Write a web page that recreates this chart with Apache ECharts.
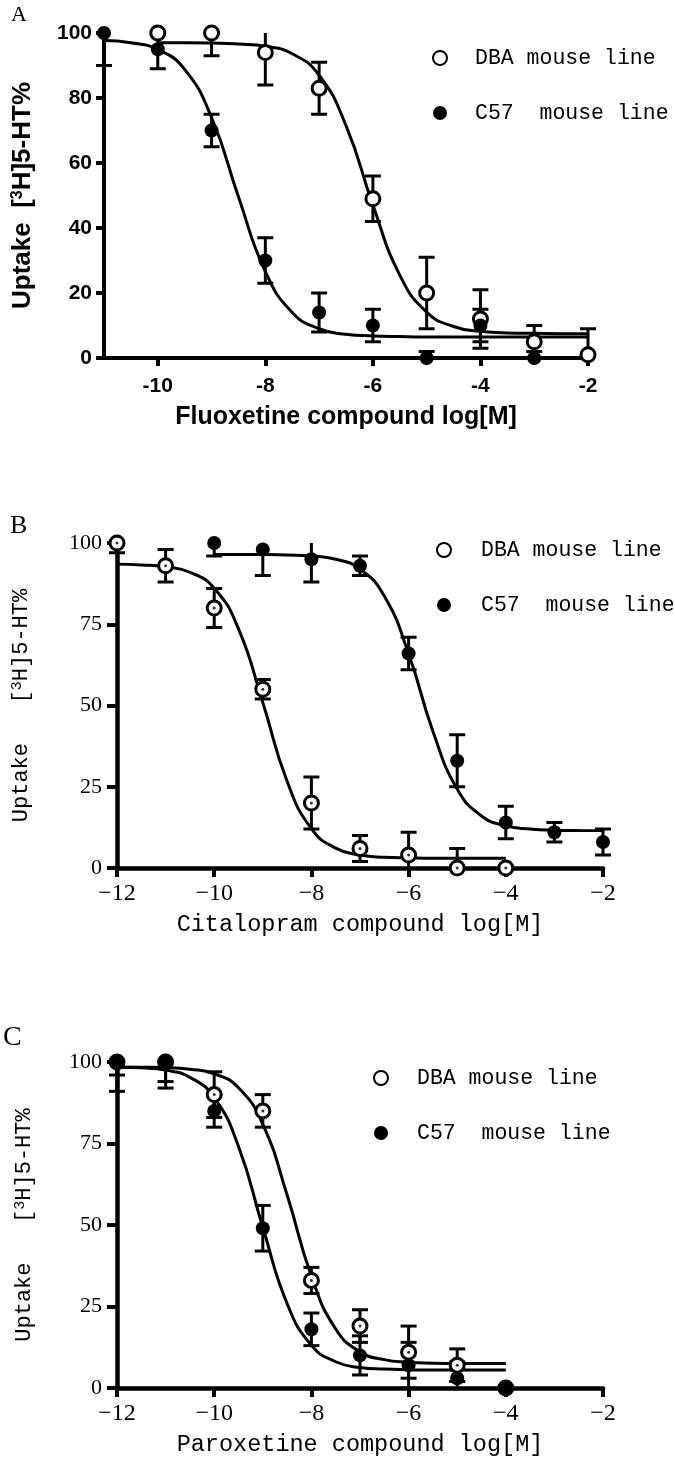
<!DOCTYPE html>
<html><head><meta charset="utf-8">
<script src="https://cdn.jsdelivr.net/npm/echarts@6/dist/echarts.min.js"></script>
<style>html,body{margin:0;padding:0;background:#fff}#c{width:675px;height:1460px}</style>
</head><body><div id="c"></div>
<script>
// ---------- Panel A : Fluoxetine ----------
const A_x_DBA   = [-10, -9, -8, -7, -6, -5, -4, -3, -2];
const A_DBA     = [100, 100, 94, 83, 49, 20, 12, 5, 1];
const A_DBA_err = [0, 7, 10, 8, 7, 11, 9, 5, 8];
const A_x_C57   = [-11, -10, -9, -8, -7, -6, -5, -4, -3];
const A_C57     = [100, 95, 70, 30, 14, 10, 0, 10, 0];
const A_C57_err = [10, 6, 5, 7, 6, 5, 2, 5, 2];
const A_fitX_DBA = [-10,-9.5,-9,-8.5,-8,-7.5,-7,-6.5,-6,-5.5,-5,-4.5,-4,-3.5,-3,-2.5,-2];
const A_fit_DBA  = [97.0,97.0,96.9,96.6,95.9,93.6,87.0,71.5,47.1,25.5,14.1,9.7,8.2,7.7,7.6,7.5,7.5];
const A_fitX_C57 = [-11,-10.5,-10,-9.5,-9,-8.5,-8,-7.5,-7,-6.5,-6,-5.5,-5,-4.5,-4,-3.5,-3,-2.5,-2];
const A_fit_C57  = [97.7,97.0,94.9,88.8,74.0,49.6,26.6,14.0,9.0,7.3,6.8,6.6,6.5,6.5,6.5,6.5,6.5,6.5,6.5];
const A_xTicks   = [-10, -8, -6, -4, -2];

// ---------- Panel B : Citalopram ----------
const B_x_DBA   = [-12, -11, -10, -9, -8, -7, -6, -5, -4];
const B_DBA     = [100, 93, 80, 55, 20, 6, 4, 0, 0];
const B_DBA_err = [3, 5, 6, 3, 8, 4, 7, 6, 0];
const B_x_C57   = [-10, -9, -8, -7, -6, -5, -4, -3, -2];
const B_C57     = [100, 98, 95, 93, 66, 33, 14, 11, 8];
const B_C57_err = [4, 8, 7, 3, 5, 8, 5, 3, 4];
const B_fitX_DBA = [-12,-11.5,-11,-10.5,-10,-9.5,-9,-8.5,-8,-7.5,-7,-6.5,-6,-5.5,-5,-4.5,-4];
const B_fit_DBA  = [93.5,93.25,92.7,91.0,86.1,73.6,50.9,26.7,12.1,6.1,4.0,3.3,3.1,3.0,3.0,3.0,3.0];
const B_fitX_C57 = [-10,-9.5,-9,-8.5,-8,-7.5,-7,-6.5,-6,-5.5,-5,-4.5,-4,-3.5,-3,-2.5,-2];
const B_fit_C57  = [96.5,96.5,96.45,96.3,96.0,95.0,92.0,83.7,65.9,42.1,24.3,16.0,13.0,12.0,11.65,11.55,11.5];

// ---------- Panel C : Paroxetine ----------
const C_x_DBA   = [-12, -11, -10, -9, -8, -7, -6, -5, -4];
const C_DBA     = [100, 100, 90, 85, 33, 19, 11, 7, 0];
const C_DBA_err = [4, 6, 7, 5, 4, 5, 8, 5, 0];
const C_x_C57   = [-12, -11, -10, -9, -8, -7, -6, -5, -4];
const C_C57     = [100, 100, 85, 49, 18, 10, 7, 3, 0];
const C_C57_err = [9, 8, 5, 7, 5, 6, 7, 5, 0];
const C_fitX_DBA = [-12,-11.5,-11,-10.5,-10,-9.5,-9,-8.5,-8,-7.5,-7,-6.5,-6,-5.5,-5,-4.5,-4];
const C_fit_DBA  = [98.5,98.4,98.3,97.8,96.4,92.1,80.9,59.2,34.3,18.1,11.1,8.7,7.9,7.6,7.5,7.5,7.5];
const C_fitX_C57 = [-12,-11.5,-11,-10.5,-10,-9.5,-9,-8.5,-8,-7.5,-7,-6.5,-6,-5.5,-5,-4.5,-4];
const C_fit_C57  = [98.4,98.2,97.5,95.3,89.1,74.1,49.3,25.9,13.1,8.05,6.3,5.8,5.6,5.5,5.5,5.5,5.5];

const panelLetters = ['A', 'B', 'C'];
const xTitles = ['Fluoxetine compound log[M]', 'Citalopram compound log[M]', 'Paroxetine compound log[M]'];
const legendNames = ['DBA mouse line', 'C57  mouse line'];

// ---------- helpers ----------
const pairs = (xs, ys) => xs.map((x, i) => [x, ys[i]]);
const triples = (xs, ys, es) => xs.map((x, i) => [x, ys[i], es[i]]);
const INK = '#000';
const YMAX = 100, YMIN = 0;

function errRender(params, api) {
  const x = api.value(0), y = api.value(1), e = api.value(2);
  if (!e) return null;
  const hiV = y + e, loV = y - e;
  const pt = api.coord([x, Math.min(hiV, YMAX)]);
  const pb = api.coord([x, Math.max(loV, YMIN)]);
  const st = { stroke: INK, lineWidth: 3 };
  const ch = [{ type: 'line', shape: { x1: pt[0], y1: pt[1], x2: pb[0], y2: pb[1] }, style: st }];
  if (hiV <= YMAX) ch.push({ type: 'line', shape: { x1: pt[0] - 8, y1: pt[1], x2: pt[0] + 8, y2: pt[1] }, style: st });
  if (loV >= YMIN) ch.push({ type: 'line', shape: { x1: pb[0] - 8, y1: pb[1], x2: pb[0] + 8, y2: pb[1] }, style: st });
  return { type: 'group', children: ch };
}

function panelSeries(g, d) {
  const s = [];
  s.push({ type: 'custom', name: 'errDBA' + g, xAxisIndex: g, yAxisIndex: g, renderItem: errRender,
    data: triples(d.xD, d.yD, d.eD), encode: { x: 0, y: 1 }, z: 2, silent: true });
  s.push({ type: 'custom', name: 'errC57' + g, xAxisIndex: g, yAxisIndex: g, renderItem: errRender,
    data: triples(d.xC, d.yC, d.eC), encode: { x: 0, y: 1 }, z: 2, silent: true });
  s.push({ type: 'line', name: 'fitDBA' + g, xAxisIndex: g, yAxisIndex: g, data: pairs(d.fxD, d.fyD),
    showSymbol: false, symbol: 'none', smooth: 0.5, lineStyle: { color: INK, width: 3 }, z: 3, silent: true });
  s.push({ type: 'line', name: 'fitC57' + g, xAxisIndex: g, yAxisIndex: g, data: pairs(d.fxC, d.fyC),
    showSymbol: false, symbol: 'none', smooth: 0.5, lineStyle: { color: INK, width: 3 }, z: 3, silent: true });
  s.push({ type: 'scatter', name: legendNames[0], xAxisIndex: g, yAxisIndex: g, data: pairs(d.xD, d.yD),
    symbol: 'circle', symbolSize: 14, itemStyle: { color: '#fff', borderColor: INK, borderWidth: 3, opacity: 1 }, z: 4 });
  if (d.dot) {
    s.push({ type: 'scatter', name: 'dotDBA' + g, xAxisIndex: g, yAxisIndex: g, data: pairs(d.xD, d.yD),
      symbol: 'circle', symbolSize: 3, itemStyle: { color: INK }, z: 4, silent: true });
  }
  s.push({ type: 'scatter', name: legendNames[1], xAxisIndex: g, yAxisIndex: g, data: pairs(d.xC, d.yC),
    symbol: 'circle', symbolSize: 14, itemStyle: { color: INK, opacity: 1 }, z: 5 });
  return s;
}

const boldSans = { fontFamily: 'Liberation Sans', fontWeight: 'bold', color: INK };
const serif = { fontFamily: 'Liberation Serif', fontWeight: 'normal', color: INK };
const mono = { fontFamily: 'Liberation Mono', fontWeight: 'normal', color: INK };
const minusFmt = v => (v < 0 ? '\u2212' + Math.abs(v) : String(v));

const grids = [
  { left: 104, top: 33, width: 484, height: 325 },
  { left: 117, top: 543, width: 486, height: 325 },
  { left: 117, top: 1062, width: 486, height: 326 }
].map(g => Object.assign({ outerBoundsMode: 'none', containLabel: false }, g));

const axLine = w => ({ show: true, onZero: false, lineStyle: { color: INK, width: w } });

const xAxes = [
  { gridIndex: 0, type: 'value', min: -11, max: -2,
    axisLine: axLine(4),
    axisTick: { show: true, customValues: A_xTicks, length: 8, lineStyle: { color: INK, width: 4 } },
    axisLabel: Object.assign({ customValues: A_xTicks, fontSize: 21, margin: 18 }, boldSans),
    splitLine: { show: false },
    name: xTitles[0], nameLocation: 'middle', nameGap: 47,
    nameTextStyle: Object.assign({ fontSize: 25 }, boldSans) },
  { gridIndex: 1, type: 'value', min: -12, max: -2, interval: 2,
    axisLine: axLine(4.5),
    axisTick: { show: true, length: 9, lineStyle: { color: INK, width: 4 } },
    axisLabel: Object.assign({ fontSize: 24, margin: 14, formatter: minusFmt }, serif),
    splitLine: { show: false },
    name: xTitles[1], nameLocation: 'middle', nameGap: 45,
    nameTextStyle: Object.assign({ fontSize: 23.5 }, mono) },
  { gridIndex: 2, type: 'value', min: -12, max: -2, interval: 2,
    axisLine: axLine(4.5),
    axisTick: { show: true, length: 9, lineStyle: { color: INK, width: 4 } },
    axisLabel: Object.assign({ fontSize: 24, margin: 14, formatter: minusFmt }, serif),
    splitLine: { show: false },
    name: xTitles[2], nameLocation: 'middle', nameGap: 45,
    nameTextStyle: Object.assign({ fontSize: 23.5 }, mono) }
];

const yAxes = [
  { gridIndex: 0, type: 'value', min: 0, max: 100, interval: 20,
    axisLine: axLine(4),
    axisTick: { show: true, length: 8, lineStyle: { color: INK, width: 4 } },
    axisLabel: Object.assign({ fontSize: 21, margin: 12 }, boldSans),
    splitLine: { show: false },
    name: 'Uptake  [{s|3}H]5-HT%', nameLocation: 'middle', nameGap: 68,
    nameTextStyle: Object.assign({ fontSize: 26,
      rich: { s: Object.assign({ fontSize: 16, verticalAlign: 'top', lineHeight: 26 }, boldSans) } }, boldSans) },
  { gridIndex: 1, type: 'value', min: 0, max: 100, interval: 25,
    axisLine: axLine(4.5),
    axisTick: { show: true, length: 10, lineStyle: { color: INK, width: 4 } },
    axisLabel: Object.assign({ fontSize: 22, margin: 15 }, serif),
    splitLine: { show: false },
    name: 'Uptake   [{s|3}H]5-HT%', nameLocation: 'middle', nameGap: 85,
    nameTextStyle: Object.assign({ fontSize: 22,
      rich: { s: Object.assign({ fontSize: 15, verticalAlign: 'top', lineHeight: 22 }, mono) } }, mono) },
  { gridIndex: 2, type: 'value', min: 0, max: 100, interval: 25,
    axisLine: axLine(4.5),
    axisTick: { show: true, length: 10, lineStyle: { color: INK, width: 4 } },
    axisLabel: Object.assign({ fontSize: 22, margin: 15 }, serif),
    splitLine: { show: false },
    name: 'Uptake   [{s|3}H]5-HT%', nameLocation: 'middle', nameGap: 82,
    nameTextStyle: Object.assign({ fontSize: 22,
      rich: { s: Object.assign({ fontSize: 15, verticalAlign: 'top', lineHeight: 22 }, mono) } }, mono) }
];

const mkLegend = (left, top, w) => ({
  orient: 'vertical', left: left, top: top, itemWidth: w, itemHeight: 14, itemGap: 33,
  selectedMode: false, padding: 0,
  textStyle: Object.assign({ fontSize: 21.5, lineHeight: 22 }, mono),
  data: legendNames.map(n => ({ name: n }))
});

const series = []
  .concat(panelSeries(0, { xD: A_x_DBA, yD: A_DBA, eD: A_DBA_err, xC: A_x_C57, yC: A_C57, eC: A_C57_err,
    fxD: A_fitX_DBA, fyD: A_fit_DBA, fxC: A_fitX_C57, fyC: A_fit_C57, dot: false }))
  .concat(panelSeries(1, { xD: B_x_DBA, yD: B_DBA, eD: B_DBA_err, xC: B_x_C57, yC: B_C57, eC: B_C57_err,
    fxD: B_fitX_DBA, fyD: B_fit_DBA, fxC: B_fitX_C57, fyC: B_fit_C57, dot: true }))
  .concat(panelSeries(2, { xD: C_x_DBA, yD: C_DBA, eD: C_DBA_err, xC: C_x_C57, yC: C_C57, eC: C_C57_err,
    fxD: C_fitX_DBA, fyD: C_fit_DBA, fxC: C_fitX_C57, fyC: C_fit_C57, dot: true }));

const option = {
  animation: false,
  backgroundColor: '#fff',
  title: [
    { text: panelLetters[0], left: 11, top: 4, padding: 0, textStyle: Object.assign({ fontSize: 22 }, serif) },
    { text: panelLetters[1], left: 10, top: 513, padding: 0, textStyle: Object.assign({ fontSize: 26 }, serif) },
    { text: panelLetters[2], left: 3, top: 1024, padding: 0, textStyle: Object.assign({ fontSize: 28 }, serif) }
  ],
  legend: [mkLegend(432, 47, 60), mkLegend(436, 539, 64), mkLegend(373, 1067, 62)],
  grid: grids,
  xAxis: xAxes,
  yAxis: yAxes,
  series: series
};

const chart = echarts.init(document.getElementById('c'), null, { renderer: 'canvas' });
chart.setOption(option);
</script>
</body></html>
